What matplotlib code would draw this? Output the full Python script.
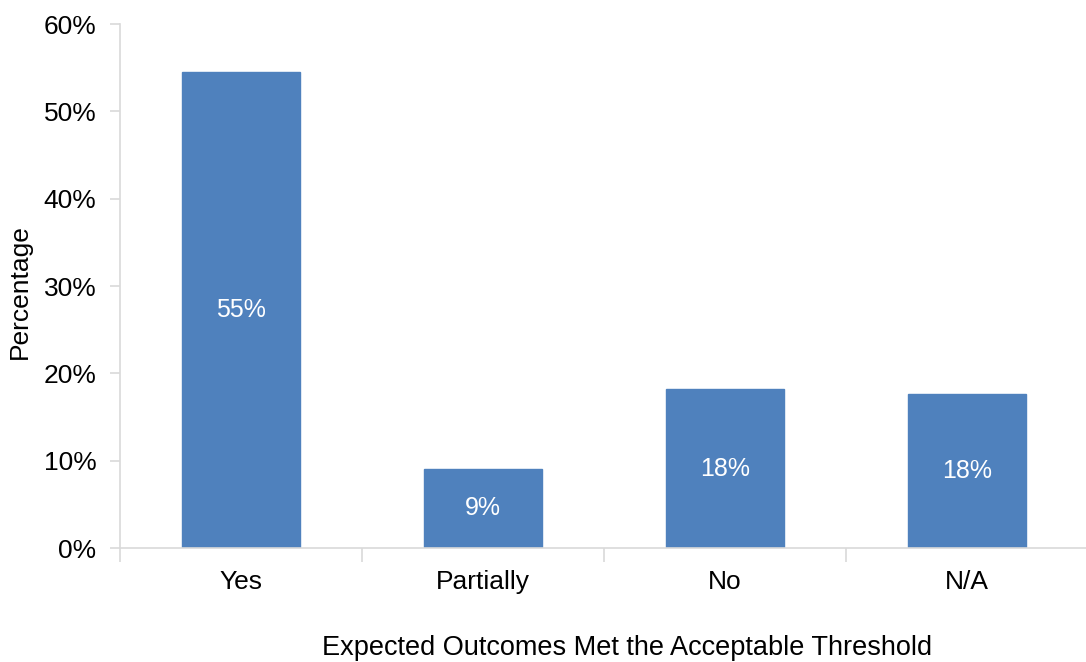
import numpy as np
import matplotlib.pyplot as plt
from matplotlib.ticker import PercentFormatter, FixedLocator

# share of responses per outcome
categories = ['Yes', 'Partially', 'No', 'N/A']
shares = [0.545, 0.091, 0.182, 0.176]

plt.rcParams['font.family'] = ['Liberation Sans', 'DejaVu Sans']

fig = plt.figure(figsize=(10.86, 6.62), dpi=100)
ax = fig.add_axes([120 / 1086, 114 / 662, 968 / 1086, 524 / 662])

x = np.arange(len(categories))
bars = ax.bar(x, shares, width=0.49, color='#4f81bd', edgecolor='#4f81bd')

for b, v in zip(bars, shares):
    ax.text(b.get_x() + b.get_width() / 2, v / 2, f'{v:.0%}',
            ha='center', va='center', color='white', fontsize=18)

ax.set_xlim(-0.5, len(categories) - 0.5)
ax.set_ylim(0, 0.6)
ax.set_yticks(np.arange(0, 0.61, 0.1))
ax.yaxis.set_major_formatter(PercentFormatter(1.0, decimals=0))
ax.set_xticks(x)
ax.set_xticklabels(categories)
ax.xaxis.set_minor_locator(FixedLocator(np.arange(-0.5, len(categories), 1.0)))

ax.tick_params(axis='x', which='major', length=0, pad=16, labelsize=19)
ax.tick_params(axis='x', which='minor', length=10, color='#d9d9d9', width=1.2)
ax.tick_params(axis='y', length=7, color='#d9d9d9', width=1.2, labelsize=19, pad=10)

for side in ['top', 'right']:
    ax.spines[side].set_visible(False)
for side in ['left', 'bottom']:
    ax.spines[side].set_color('#d9d9d9')
    ax.spines[side].set_linewidth(1.2)

# axis titles placed in figure pixels
fig.text(20 / 1086, 1 - 292 / 662, 'Percentage', rotation=90,
         ha='center', va='center', fontsize=19)
fig.text(627 / 1086, 1 - 648 / 662,
         'Expected Outcomes Met the Acceptable Threshold',
         ha='center', va='center', fontsize=19.5)

fig.savefig('out.png', dpi=100)
